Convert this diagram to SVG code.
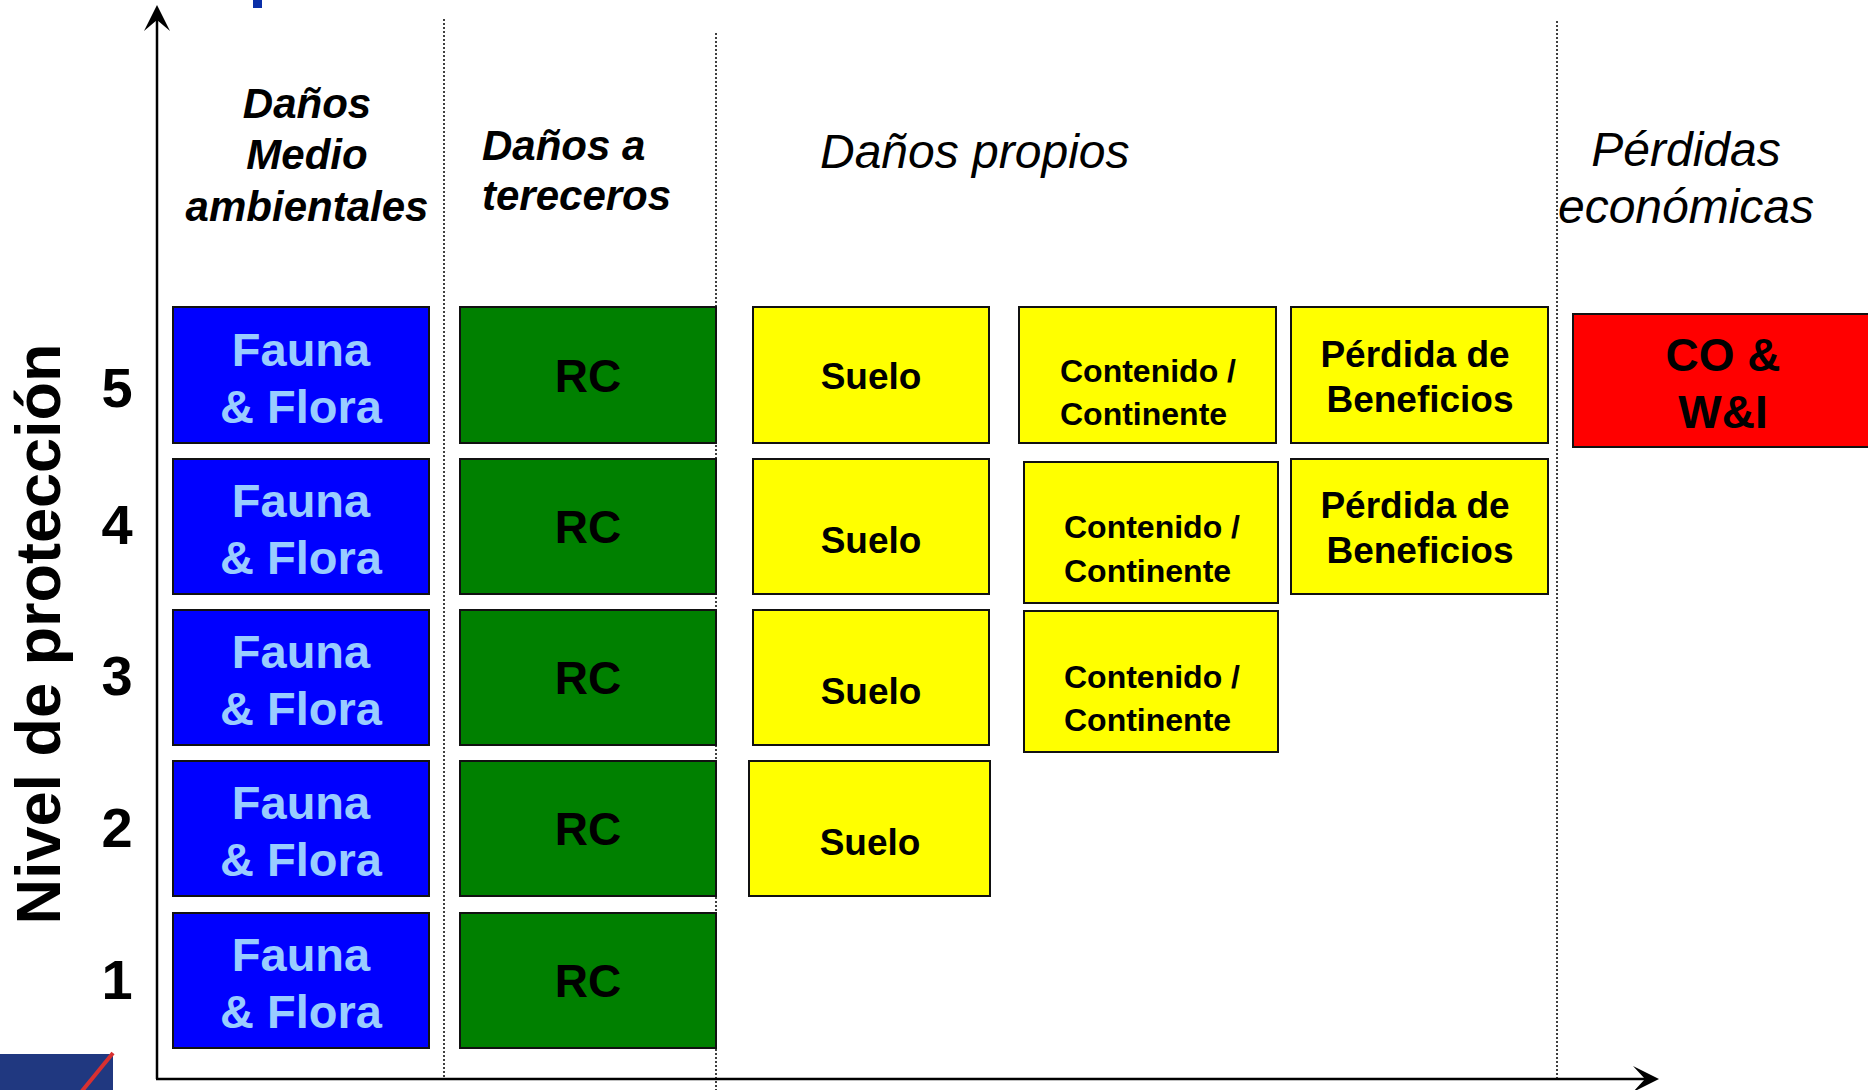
<svg xmlns="http://www.w3.org/2000/svg" width="1868" height="1090" viewBox="0 0 1868 1090">
<style>
text{font-family:"Liberation Sans",Arial,sans-serif;}
.box{stroke:#111;stroke-width:2;}
.blue{fill:#0000ff;}
.green{fill:#008000;}
.yellow{fill:#ffff00;}
.red{fill:#ff0000;}
.ff{font-weight:bold;font-size:47px;fill:#99ccff;text-anchor:middle;}
.rc{font-weight:bold;font-size:46px;fill:#000;text-anchor:middle;}
.suelo{font-weight:bold;font-size:37px;fill:#000;text-anchor:middle;}
.cont{font-weight:bold;font-size:32px;fill:#000;}
.perd{font-weight:bold;font-size:37px;fill:#000;text-anchor:middle;}
.hdr{font-weight:bold;font-style:italic;font-size:42px;fill:#000;}
.hdr2{font-style:italic;font-size:48px;fill:#000;}
.num{font-weight:bold;font-size:56px;fill:#000;text-anchor:middle;}
.dot{stroke:#000;stroke-width:1.5;stroke-dasharray:2 2;fill:none;}
.axis{stroke:#000;stroke-width:2.5;fill:none;}
</style>
<rect width="1868" height="1090" fill="#fff"/>
<rect x="253" y="0" width="9" height="8" fill="#0a2fa8"/>
<g id="logo">
<rect x="0" y="1054" width="113" height="36" fill="#203880"/>
<line x1="113" y1="1053" x2="82" y2="1091" stroke="#d83030" stroke-width="4"/>
</g>
<g id="connectors">
<line class="dot" x1="444" y1="19" x2="444" y2="1078"/>
<line class="dot" x1="716" y1="33" x2="716" y2="1090"/>
<line class="dot" x1="1557" y1="21" x2="1557" y2="1080"/>
<line class="axis" x1="157" y1="1079" x2="157" y2="20"/>
<path d="M157,5 L170,31 L157,20 L144,31 Z" fill="#000"/>
<line class="axis" x1="156" y1="1079" x2="1646" y2="1079"/>
<path d="M1659,1079 L1633,1066 L1645,1079 L1633,1092 Z" fill="#000"/>
</g>
<g id="headers">
<text class="hdr" text-anchor="middle"><tspan x="307" y="118">Daños</tspan><tspan x="307" y="169">Medio</tspan><tspan x="307" y="221">ambientales</tspan></text>
<text class="hdr"><tspan x="482" y="160">Daños a</tspan><tspan x="482" y="210">tereceros</tspan></text>
<text class="hdr2" x="820" y="168">Daños propios</text>
<text class="hdr2" text-anchor="middle"><tspan x="1686" y="166">Pérdidas</tspan><tspan x="1686" y="223">económicas</tspan></text>
</g>
<g id="ylabel">
<text transform="translate(60,634) rotate(-90)" text-anchor="middle" font-weight="bold" font-size="63">Nivel de protección</text>
<text class="num" x="117" y="407">5</text>
<text class="num" x="117" y="544">4</text>
<text class="num" x="117" y="695">3</text>
<text class="num" x="117" y="847">2</text>
<text class="num" x="117" y="999">1</text>
</g>
<g id="ff5"><rect class="box blue" x="173" y="307" width="256" height="136"/><text class="ff"><tspan x="301" y="366">Fauna</tspan><tspan x="301" y="423">&amp; Flora</tspan></text></g>
<g id="ff4"><rect class="box blue" x="173" y="459" width="256" height="135"/><text class="ff"><tspan x="301" y="517">Fauna</tspan><tspan x="301" y="574">&amp; Flora</tspan></text></g>
<g id="ff3"><rect class="box blue" x="173" y="610" width="256" height="135"/><text class="ff"><tspan x="301" y="668">Fauna</tspan><tspan x="301" y="725">&amp; Flora</tspan></text></g>
<g id="ff2"><rect class="box blue" x="173" y="761" width="256" height="135"/><text class="ff"><tspan x="301" y="819">Fauna</tspan><tspan x="301" y="876">&amp; Flora</tspan></text></g>
<g id="ff1"><rect class="box blue" x="173" y="913" width="256" height="135"/><text class="ff"><tspan x="301" y="971">Fauna</tspan><tspan x="301" y="1028">&amp; Flora</tspan></text></g>
<g id="rc5"><rect class="box green" x="460" y="307" width="256" height="136"/><text class="rc" x="588" y="392">RC</text></g>
<g id="rc4"><rect class="box green" x="460" y="459" width="256" height="135"/><text class="rc" x="588" y="543">RC</text></g>
<g id="rc3"><rect class="box green" x="460" y="610" width="256" height="135"/><text class="rc" x="588" y="694">RC</text></g>
<g id="rc2"><rect class="box green" x="460" y="761" width="256" height="135"/><text class="rc" x="588" y="845">RC</text></g>
<g id="rc1"><rect class="box green" x="460" y="913" width="256" height="135"/><text class="rc" x="588" y="997">RC</text></g>
<g id="suelo5"><rect class="box yellow" x="753" y="307" width="236" height="136"/><text class="suelo" x="871" y="389">Suelo</text></g>
<g id="suelo4"><rect class="box yellow" x="753" y="459" width="236" height="135"/><text class="suelo" x="871" y="553">Suelo</text></g>
<g id="suelo3"><rect class="box yellow" x="753" y="610" width="236" height="135"/><text class="suelo" x="871" y="704">Suelo</text></g>
<g id="suelo2"><rect class="box yellow" x="749" y="761" width="241" height="135"/><text class="suelo" x="870" y="855">Suelo</text></g>
<g id="cont5"><rect class="box yellow" x="1019" y="307" width="257" height="136"/><text class="cont"><tspan x="1060" y="382">Contenido /</tspan><tspan x="1060" y="425">Continente</tspan></text></g>
<g id="cont4"><rect class="box yellow" x="1024" y="462" width="254" height="141"/><text class="cont"><tspan x="1064" y="538">Contenido /</tspan><tspan x="1064" y="582">Continente</tspan></text></g>
<g id="cont3"><rect class="box yellow" x="1024" y="611" width="254" height="141"/><text class="cont"><tspan x="1064" y="688">Contenido /</tspan><tspan x="1064" y="731">Continente</tspan></text></g>
<g id="perd5"><rect class="box yellow" x="1291" y="307" width="257" height="136"/><text class="perd"><tspan x="1415" y="367">Pérdida de</tspan><tspan x="1420" y="412">Beneficios</tspan></text></g>
<g id="perd4"><rect class="box yellow" x="1291" y="459" width="257" height="135"/><text class="perd"><tspan x="1415" y="518">Pérdida de</tspan><tspan x="1420" y="563">Beneficios</tspan></text></g>
<g id="cowi"><rect class="box red" x="1573" y="314" width="300" height="133"/><text class="rc" font-size="47"><tspan x="1723" y="371">CO &amp;</tspan><tspan x="1723" y="428">W&amp;I</tspan></text></g>
</svg>
